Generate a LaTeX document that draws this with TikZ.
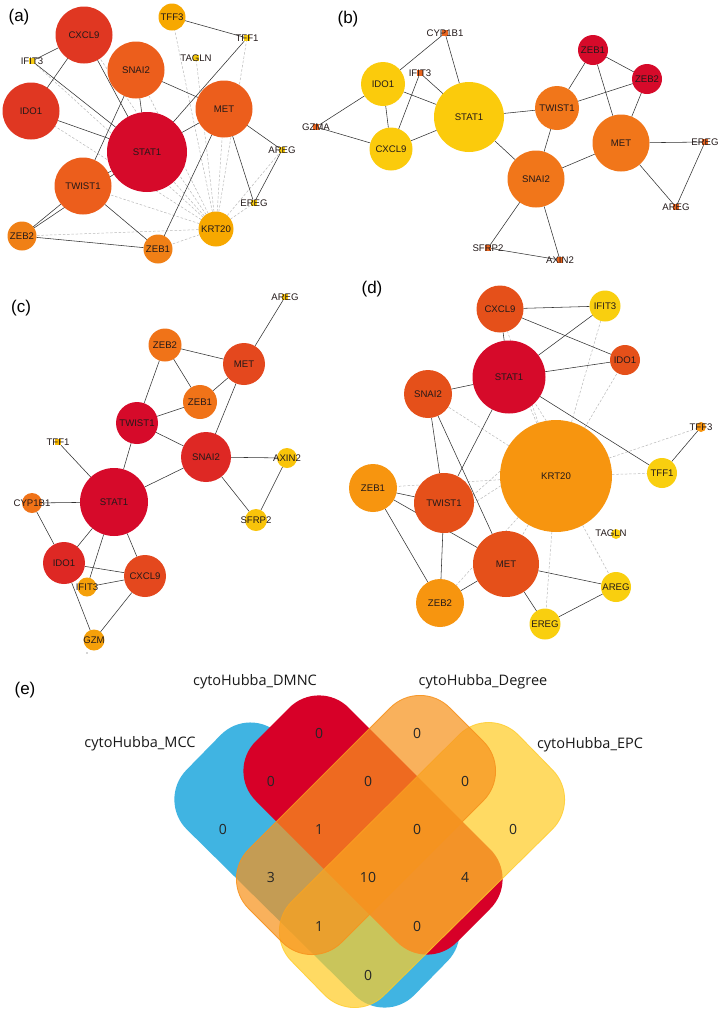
\documentclass[tikz,border=0pt]{standalone}
\usepackage{fontspec}
\setmainfont{Liberation Sans}
\newfontfamily\vennfont{Open Sans}
\pgfdeclarelayer{bg}
\pgfsetlayers{bg,main}
\definecolor{crim}{RGB}{214,10,42}
\definecolor{labc}{RGB}{35,25,25}
\definecolor{aRed}{RGB}{224,55,34}
\definecolor{aOr}{RGB}{236,94,28}
\definecolor{aOrT}{RGB}{240,128,22}
\definecolor{aAmb}{RGB}{247,168,0}
\definecolor{aYel}{RGB}{248,204,16}
\definecolor{bYel}{RGB}{251,203,12}
\definecolor{bOr}{RGB}{241,118,26}
\definecolor{bSm}{RGB}{232,100,30}
\definecolor{cRed}{RGB}{222,40,36}
\definecolor{cOrR}{RGB}{228,72,30}
\definecolor{cOr}{RGB}{240,115,24}
\definecolor{cAmb}{RGB}{245,160,10}
\definecolor{cAmbT}{RGB}{247,184,0}
\definecolor{cYel}{RGB}{249,196,10}
\definecolor{dOrR}{RGB}{229,80,26}
\definecolor{dOr}{RGB}{247,149,15}
\definecolor{dYel}{RGB}{249,207,15}
\definecolor{vBlue}{RGB}{64,180,226}
\definecolor{vRed}{RGB}{215,0,40}
\definecolor{vOr}{RGB}{247,147,30}
\definecolor{vYel}{RGB}{255,204,40}
\definecolor{edgec}{RGB}{50,50,50}
\definecolor{dashc}{RGB}{185,185,185}
\tikzset{
  edge/.style={draw=edgec, line width=0.55pt},
  dedge/.style={draw=dashc, line width=0.5pt, dash pattern=on 2.5pt off 1.8pt},
  bn/.style={circle, inner sep=0pt, outer sep=0pt, minimum size=#1},
  sn/.style={rectangle, inner sep=0pt, outer sep=0pt, minimum size=6.5pt},
  lbl/.style={font=\fontsize{9.6}{10}\selectfont, text=labc, inner sep=0pt},
  plbl/.style={font=\fontsize{17}{18}\selectfont, inner sep=0pt},
  vlab/.style={font=\vennfont\fontsize{14.5}{16}\selectfont, text=black!90, inner sep=0pt},
  vnum/.style={font=\vennfont\fontsize{14}{16}\selectfont, text=black!85, inner sep=0pt},
}
\newcommand\GN[6]{\node[bn=#5pt, fill=#6, label={[lbl]center:#2}] (#1) at (#3,#4) {};}
\newcommand\SN[5]{\node[sn, fill=#5, label={[lbl]center:#2}] (#1) at (#3,#4) {};}
\begin{document}
\begin{tikzpicture}[x=1pt,y=-1pt]
\useasboundingbox (0,0) rectangle (720,1013);

% ---------- panel (a)
\node[plbl] (la) at (19,17) {(a)};
\GN{aCXCL9}{CXCL9}{84}{35}{57}{aRed}
\GN{aIDO1}{IDO1}{31}{111}{57}{aRed}
\GN{aSNAI2}{SNAI2}{136}{70}{57}{aOr}
\GN{aMET}{MET}{224}{109}{57}{aOr}
\GN{aSTAT1}{STAT1}{147}{152}{80}{crim}
\GN{aTWIST1}{TWIST1}{83}{186}{57}{aOr}
\GN{aZEB2}{ZEB2}{22}{236}{29}{aOrT}
\GN{aZEB1}{ZEB1}{158}{249}{29}{aOrT}
\GN{aKRT20}{KRT20}{216}{229}{35}{aAmb}
\GN{aTFF3}{TFF3}{172}{17}{27}{aAmb}
\SN{aIFIT3}{IFIT3}{32}{61}{aYel}
\SN{aTFF1}{TFF1}{247}{38}{aYel}
\SN{aTAGLN}{TAGLN}{196}{58}{aYel}
\SN{aAREG}{AREG}{282}{150}{aYel}
\SN{aEREG}{EREG}{254}{203}{aYel}

% ---------- panel (b)
\node[plbl] (lb) at (348,19) {(b)};
\SN{bCYP}{CYP1B1}{445}{33}{bSm}
\GN{bIDO1}{IDO1}{383}{84}{44}{bYel}
\SN{bIFIT3}{IFIT3}{420}{73}{bSm}
\SN{bGZMA}{GZMA}{316}{127}{bSm}
\GN{bCXCL9}{CXCL9}{391}{149}{43}{bYel}
\GN{bSTAT1}{STAT1}{469}{117}{70}{bYel}
\GN{bTWIST1}{TWIST1}{557}{108}{44}{bOr}
\GN{bZEB1}{ZEB1}{593}{50}{30}{crim}
\GN{bZEB2}{ZEB2}{647}{79}{30}{crim}
\GN{bMET}{MET}{621}{143}{57}{bOr}
\SN{bEREG}{EREG}{705}{142}{bSm}
\SN{bAREG}{AREG}{676}{207}{bSm}
\GN{bSNAI2}{SNAI2}{536}{179}{57}{bOr}
\SN{bSFRP2}{SFRP2}{488}{248}{bSm}
\SN{bAXIN2}{AXIN2}{560}{260}{bSm}

% ---------- panel (c)
\node[plbl] (lc) at (21,308) {(c)};
\SN{cAREG}{AREG}{285}{297}{cYel}
\GN{cZEB2}{ZEB2}{165}{345}{33}{cOr}
\GN{cMET}{MET}{244}{364}{42}{cOrR}
\GN{cZEB1}{ZEB1}{200}{402}{34}{cOr}
\GN{cTWIST1}{TWIST1}{137}{423}{42}{crim}
\SN{cTFF1}{TFF1}{58}{442}{cAmbT}
\GN{cSNAI2}{SNAI2}{206}{457}{50}{cRed}
\GN{cAXIN2}{AXIN2}{287}{458}{20}{cYel}
\GN{cSTAT1}{STAT1}{114}{502}{68}{crim}
\GN{cCYP}{CYP1B1}{32}{503}{20}{cOr}
\GN{cSFRP2}{SFRP2}{256}{520}{22}{cYel}
\GN{cIDO1}{IDO1}{64}{563}{42}{cRed}
\GN{cCXCL9}{CXCL9}{145}{576}{42}{cOrR}
\GN{cIFIT3}{IFIT3}{87}{587}{19}{cAmb}
\GN{cGZM}{GZM}{94}{640}{21}{cAmb}
\fill[black!70] (87,653) circle (0.6);

% ---------- panel (d)
\node[plbl] (ld) at (372,289) {(d)};
\GN{dCXCL9}{CXCL9}{500}{309}{47}{dOrR}
\GN{dIFIT3}{IFIT3}{605}{306}{31}{dYel}
\GN{dIDO1}{IDO1}{625}{360}{30}{dOrR}
\GN{dSTAT1}{STAT1}{509}{377}{73}{crim}
\GN{dSNAI2}{SNAI2}{428}{394}{48}{dOrR}
\GN{dTFF3}{TFF3}{701}{427}{10}{dOr}
\GN{dKRT20}{KRT20}{556}{476}{112}{dOr}
\GN{dTFF1}{TFF1}{662}{473}{30}{dYel}
\GN{dZEB1}{ZEB1}{373}{488}{48}{dOr}
\GN{dTWIST1}{TWIST1}{444}{503}{60}{dOrR}
\GN{dTAGLN}{}{616}{534}{10}{dYel}
\node[lbl] (dTAGLNt) at (611,533) {TAGLN};
\GN{dMET}{MET}{506}{564}{66}{dOrR}
\GN{dAREG}{AREG}{616}{587}{30}{dYel}
\GN{dZEB2}{ZEB2}{440}{603}{48}{dOr}
\GN{dEREG}{EREG}{545}{624}{31}{dYel}

\begin{pgfonlayer}{bg}
\fill[white] (0,0) rectangle (720,1013);
% dashed edges
\foreach \t in {aTFF3,aTAGLN,aTFF1,aSNAI2,aSTAT1,aIDO1,aCXCL9,aIFIT3,aMET,aAREG,aEREG,aTWIST1,aZEB2,aZEB1}
  \draw[dedge] (aKRT20) -- (\t);
\foreach \t in {dCXCL9,dIFIT3,dIDO1,dSNAI2,dTFF3,dTFF1,dZEB1,dMET,dZEB2,dEREG,dAREG}
  \draw[dedge] (dKRT20) -- (\t);
\draw[dedge] (dKRT20.110) -- (dSTAT1.-55);
\draw[dedge] (dKRT20.100) -- (dSTAT1.-45);
\draw[dedge] (dKRT20.175) -- (dTWIST1.15);
\draw[dedge] (dKRT20.190) -- (dTWIST1.0);
% solid edges
\foreach \s/\t in {aCXCL9/aIFIT3,aIFIT3/aSTAT1,aCXCL9/aIDO1,aCXCL9/aSTAT1,aIDO1/aSTAT1,
  aSNAI2/aSTAT1,aSNAI2/aMET,aSNAI2/aTWIST1,aTFF3/aTFF1,aTFF1/aSTAT1,aMET/aSTAT1,
  aMET/aAREG,aMET/aEREG,aAREG/aEREG,aMET/aZEB1,aTWIST1/aSTAT1,aZEB2/aTWIST1,
  aZEB2/aSTAT1,aTWIST1/aZEB1,aZEB2/aZEB1}
  \draw[edge] (\s) -- (\t);
\foreach \s/\t in {bCYP/bIDO1,bCYP/bSTAT1,bIFIT3/bSTAT1,bIFIT3/bCXCL9,bIDO1/bSTAT1,
  bIDO1/bCXCL9,bIDO1/bGZMA,bGZMA/bCXCL9,bCXCL9/bSTAT1,bSTAT1/bTWIST1,bSTAT1/bSNAI2,
  bTWIST1/bZEB1,bTWIST1/bZEB2,bTWIST1/bSNAI2,bZEB1/bZEB2,bZEB1/bMET,bZEB2/bMET,
  bMET/bSNAI2,bMET/bEREG,bMET/bAREG,bEREG/bAREG,bSNAI2/bSFRP2,bSNAI2/bAXIN2,bSFRP2/bAXIN2}
  \draw[edge] (\s) -- (\t);
\foreach \s/\t in {cAREG/cMET,cZEB2/cMET,cZEB2/cZEB1,cZEB2/cTWIST1,cMET/cZEB1,cMET/cSNAI2,
  cZEB1/cTWIST1,cTWIST1/cSNAI2,cTWIST1/cSTAT1,cTFF1/cSTAT1,cSNAI2/cSTAT1,cSNAI2/cAXIN2,
  cSNAI2/cSFRP2,cAXIN2/cSFRP2,cCYP/cSTAT1,cCYP/cIDO1,cSTAT1/cIDO1,cSTAT1/cIFIT3,
  cSTAT1/cCXCL9,cIDO1/cCXCL9,cIFIT3/cCXCL9,cIDO1/cGZM,cCXCL9/cGZM}
  \draw[edge] (\s) -- (\t);
\foreach \s/\t in {dCXCL9/dIFIT3,dCXCL9/dIDO1,dCXCL9/dSTAT1,dSTAT1/dIFIT3,dSTAT1/dIDO1,
  dSTAT1/dSNAI2,dSTAT1/dTFF1,dSTAT1/dTWIST1,dTFF3/dTFF1,dSNAI2/dTWIST1,dSNAI2/dMET,
  dZEB1/dTWIST1,dZEB1/dMET,dZEB1/dZEB2,dTWIST1/dZEB2,dMET/dZEB2,dMET/dAREG,dMET/dEREG,
  dAREG/dEREG}
  \draw[edge] (\s) -- (\t);
\end{pgfonlayer}

% ---------- panel (e) Venn
\node[plbl] (le) at (25,690) {(e)};
\fill[vBlue, rounded corners=42pt] (157,800) -- (250,705) -- (477,931) -- (385,1025) -- cycle;
\fill[vRed, rounded corners=42pt] (226,771) -- (319,678) -- (520,879) -- (427,972) -- cycle;
\filldraw[fill=vYel, fill opacity=0.72, draw=vYel, draw opacity=0.8, line width=0.8pt, rounded corners=42pt]
  (582,800) -- (489,705) -- (262,931) -- (354,1025) -- cycle;
\filldraw[fill=vOr, fill opacity=0.72, draw=vOr, draw opacity=0.9, line width=0.8pt, rounded corners=42pt]
  (513,771) -- (420,678) -- (219,879) -- (312,972) -- cycle;
\node[vlab] (tDMNC) at (255,682) {cytoHubba\_DMNC};
\node[vlab] (tDeg) at (483,682) {cytoHubba\_Degree};
\node[vlab] (tMCC) at (140,744) {cytoHubba\_MCC};
\node[vlab] (tEPC) at (590,745) {cytoHubba\_EPC};
\node[vnum] (n1) at (319,733) {0};
\node[vnum] (n2) at (417,733) {0};
\node[vnum] (n3) at (271,781) {0};
\node[vnum] (n4) at (368,781) {0};
\node[vnum] (n5) at (465,781) {0};
\node[vnum] (n6) at (223,829) {0};
\node[vnum] (n7) at (319,829) {1};
\node[vnum] (n8) at (417,829) {0};
\node[vnum] (n9) at (513,829) {0};
\node[vnum] (n10) at (271,877) {3};
\node[vnum] (n11) at (368,877) {10};
\node[vnum] (n12) at (465,877) {4};
\node[vnum] (n13) at (319,926) {1};
\node[vnum] (n14) at (417,926) {0};
\node[vnum] (n15) at (368,975) {0};
\end{tikzpicture}
\end{document}
